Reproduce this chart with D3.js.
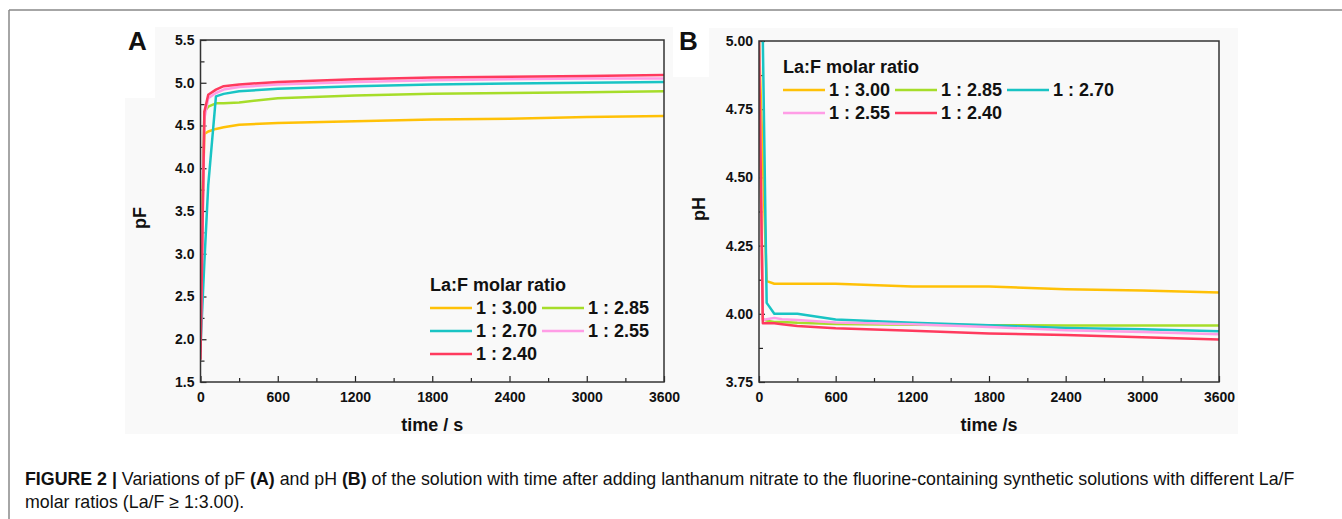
<!DOCTYPE html>
<html lang="en">
<head>
<meta charset="UTF-8">
<title>Figure 2</title>
<script src="https://d3js.org/d3.v7.min.js"></script>
<style>
  body { margin: 0; background: #fff; }
  text { font-family: "Liberation Sans", Arial, sans-serif; fill: #111; }
  .tick text { font-weight: bold; font-size: 14px; }
  .axis path { display: none; }
  .axis line { stroke: #222; stroke-width: 1.2; }
</style>
</head>
<body>
<div id="fig"></div>
<script>
const W = 1342, H = 519;

// series shared by both panels
const ratios = ["1 : 3.00", "1 : 2.85", "1 : 2.70", "1 : 2.55", "1 : 2.40"];
const colors = ["#ffc107", "#a6dd2a", "#19c4c4", "#ff9de6", "#ff3a5e"];

// panel A: pF vs time
const timeA = [0, 30, 60, 120, 180, 300, 600, 1200, 1800, 2400, 3000, 3600];
const pF300 = [2.60, 4.40, 4.43, 4.46, 4.48, 4.51, 4.53, 4.55, 4.57, 4.58, 4.60, 4.61];
const pF285 = [2.30, 4.66, 4.72, 4.76, 4.76, 4.77, 4.82, 4.85, 4.87, 4.88, 4.89, 4.90];
const pF270 = [1.90, 2.90, 3.80, 4.84, 4.87, 4.90, 4.93, 4.96, 4.98, 4.99, 5.00, 5.01];
const pF255 = [1.85, 4.58, 4.82, 4.88, 4.92, 4.95, 4.98, 5.01, 5.03, 5.04, 5.05, 5.05];
const pF240 = [1.76, 4.66, 4.86, 4.92, 4.96, 4.98, 5.01, 5.04, 5.06, 5.07, 5.08, 5.09];

// panel B: pH vs time
const timeB = [0, 30, 60, 120, 180, 300, 600, 1200, 1800, 2400, 3000, 3600];
const pH300 = [5.00, 4.56, 4.12, 4.11, 4.11, 4.11, 4.11, 4.10, 4.10, 4.09, 4.085, 4.078];
const pH285 = [5.00, 3.98, 3.975, 3.97, 3.97, 3.967, 3.963, 3.96, 3.958, 3.957, 3.957, 3.957];
const pH270 = [5.05, 5.00, 4.04, 4.00, 4.00, 4.00, 3.979, 3.967, 3.958, 3.948, 3.943, 3.936];
const pH255 = [5.00, 3.977, 3.98, 3.985, 3.98, 3.977, 3.968, 3.962, 3.952, 3.94, 3.933, 3.925];
const pH240 = [5.00, 3.965, 3.965, 3.965, 3.962, 3.955, 3.947, 3.938, 3.928, 3.922, 3.914, 3.906];

const timeTicks = [0, 600, 1200, 1800, 2400, 3000, 3600];
const pFTicks = [1.5, 2.0, 2.5, 3.0, 3.5, 4.0, 4.5, 5.0, 5.5];
const pHTicks = [3.75, 4.00, 4.25, 4.50, 4.75, 5.00];

const svg = d3.select("#fig").append("svg")
  .attr("width", W).attr("height", H);

// figure frame
svg.append("line").attr("x1", 9).attr("y1", 10).attr("x2", W).attr("y2", 10)
  .attr("stroke", "#888").attr("stroke-width", 1.5);
svg.append("line").attr("x1", 9).attr("y1", 10).attr("x2", 9).attr("y2", H)
  .attr("stroke", "#888").attr("stroke-width", 1.5);

// faint grey image backgrounds
[[155, 27, 518, 407], [125, 98, 548, 336], [709, 28, 529, 406], [673, 77, 36, 357]]
  .forEach(r => svg.append("rect").attr("x", r[0]).attr("y", r[1])
    .attr("width", r[2]).attr("height", r[3]).attr("fill", "#f9f9f9"));

function panel(opt) {
  const x = d3.scaleLinear().domain([0, 3600]).range([opt.x0, opt.x1]);
  const y = d3.scaleLinear().domain(opt.ydom).range([opt.y1, opt.y0]);
  const g = svg.append("g");

  const clipId = "clip" + opt.letter;
  svg.append("clipPath").attr("id", clipId).append("rect")
    .attr("x", opt.x0).attr("y", opt.y0)
    .attr("width", opt.x1 - opt.x0).attr("height", opt.y1 - opt.y0);

  // minor ticks
  g.append("g").attr("class", "axis")
    .attr("transform", `translate(0,${opt.y1})`)
    .call(d3.axisBottom(x).tickValues(d3.range(300, 3600, 600)).tickSize(-4).tickFormat(""));
  g.append("g").attr("class", "axis")
    .attr("transform", `translate(${opt.x0},0)`)
    .call(d3.axisLeft(y).tickValues(opt.minor).tickSize(-4).tickFormat(""));

  // major ticks with labels
  g.append("g").attr("class", "axis")
    .attr("transform", `translate(0,${opt.y1})`)
    .call(d3.axisBottom(x).tickValues(timeTicks).tickSize(-6).tickPadding(10).tickFormat(d3.format("d")));
  g.append("g").attr("class", "axis")
    .attr("transform", `translate(${opt.x0},0)`)
    .call(d3.axisLeft(y).tickValues(opt.ticks).tickSize(-6).tickPadding(6).tickFormat(d3.format(opt.fmt)));

  const line = d3.line().x((d, i) => x(opt.time[i])).y(d => y(d));
  g.append("g").attr("clip-path", `url(#${clipId})`)
    .selectAll("path").data(opt.series).enter().append("path")
    .attr("d", d => line(d))
    .attr("fill", "none")
    .attr("stroke", (d, i) => colors[i])
    .attr("stroke-width", 2.5)
    .attr("stroke-linejoin", "round");

  // frame
  g.append("rect").attr("x", opt.x0).attr("y", opt.y0)
    .attr("width", opt.x1 - opt.x0).attr("height", opt.y1 - opt.y0)
    .attr("fill", "none").attr("stroke", "#333").attr("stroke-width", 1.5);

  // axis titles
  g.append("text").attr("x", (opt.x0 + opt.x1) / 2).attr("y", 431)
    .attr("text-anchor", "middle").attr("font-weight", "bold").attr("font-size", 18)
    .text(opt.xlabel);
  g.append("text")
    .attr("transform", `translate(${opt.ylabX},${opt.ylabY}) rotate(-90)`)
    .attr("text-anchor", "middle").attr("font-weight", "bold").attr("font-size", 18)
    .text(opt.ylabel);

  // panel letter
  g.append("text").attr("x", opt.letterX).attr("y", 50)
    .attr("font-weight", "bold").attr("font-size", 26).text(opt.letter);

  // legend
  const lg = g.append("g");
  lg.append("text").attr("x", opt.leg.x).attr("y", opt.leg.y)
    .attr("font-weight", "bold").attr("font-size", 18).attr("dy", "0.35em")
    .text("La:F molar ratio");
  ratios.forEach((r, i) => {
    const col = i % opt.leg.cols, row = Math.floor(i / opt.leg.cols);
    const lx = opt.leg.x + col * opt.leg.dx, ly = opt.leg.y + (row + 1) * opt.leg.dy;
    lg.append("line").attr("x1", lx).attr("x2", lx + 42).attr("y1", ly).attr("y2", ly)
      .attr("stroke", colors[i]).attr("stroke-width", 2.5);
    lg.append("text").attr("x", lx + 46).attr("y", ly).attr("dy", "0.35em")
      .attr("font-weight", "bold").attr("font-size", 18).text(r);
  });
}

panel({
  letter: "A", letterX: 128,
  x0: 200.5, x1: 664, y0: 40, y1: 382,
  ydom: [1.5, 5.5], ticks: pFTicks, minor: d3.range(1.75, 5.5, 0.5), fmt: ".1f",
  time: timeA, series: [pF300, pF285, pF270, pF255, pF240],
  xlabel: "time / s", ylabel: "pF", ylabX: 146, ylabY: 218,
  leg: { x: 430, y: 285, cols: 2, dx: 112, dy: 23 }
});

panel({
  letter: "B", letterX: 679,
  x0: 759, x1: 1219, y0: 41, y1: 382,
  ydom: [3.75, 5.0], ticks: pHTicks, minor: d3.range(3.875, 5.0, 0.25), fmt: ".2f",
  time: timeB, series: [pH300, pH285, pH270, pH255, pH240],
  xlabel: "time /s", ylabel: "pH", ylabX: 705, ylabY: 209,
  leg: { x: 783, y: 67, cols: 3, dx: 112, dy: 23 }
});

// caption
const cap1 = svg.append("text").attr("x", 25).attr("y", 485).attr("font-size", 17.8);
[["FIGURE 2 | ", true], ["Variations of pF ", false], ["(A)", true], [" and pH ", false], ["(B)", true],
 [" of the solution with time after adding lanthanum nitrate to the fluorine-containing synthetic solutions with different La/F", false]]
  .forEach(p => cap1.append("tspan").attr("font-weight", p[1] ? "bold" : "normal").text(p[0]));
svg.append("text").attr("x", 25).attr("y", 508).attr("font-size", 17.8)
  .text("molar ratios (La/F \u2265 1:3.00).");
</script>
</body>
</html>
